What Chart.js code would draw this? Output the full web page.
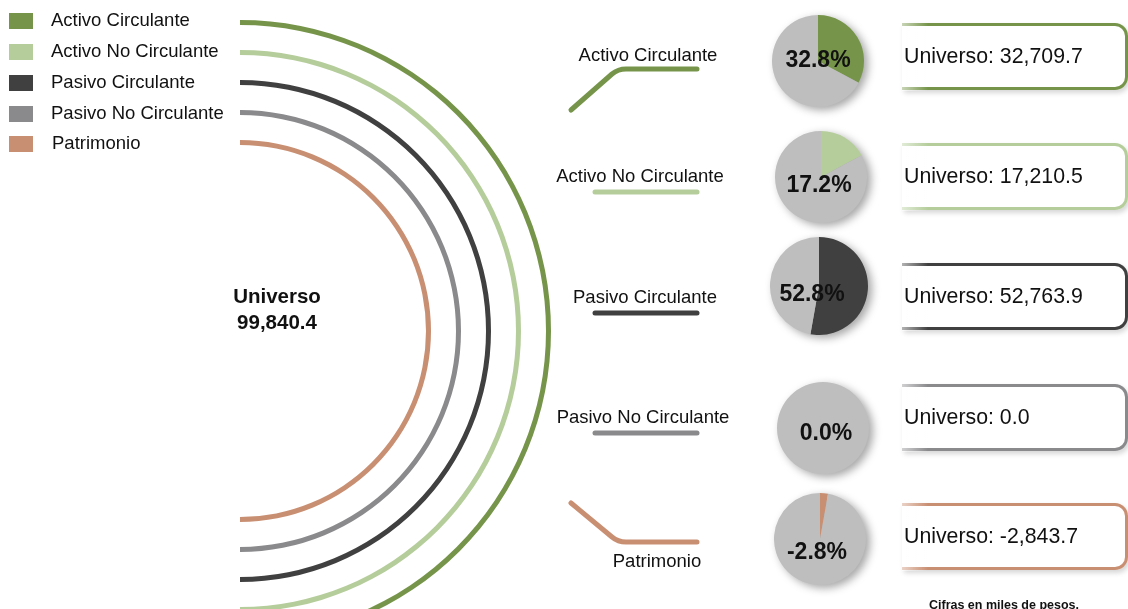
<!DOCTYPE html>
<html>
<head>
<meta charset="utf-8">
<script src="https://cdn.jsdelivr.net/npm/chart.js"></script>
<style>
  html, body { margin: 0; padding: 0; }
  body { width: 1128px; height: 609px; overflow: hidden; position: relative; background: #fff;
         font-family: "Liberation Sans", Arial, sans-serif; color: #111; }
  .abs { position: absolute; }
  .leg-sq { position: absolute; left: 9px; width: 24px; height: 16px; }
  .leg-tx { position: absolute; left: 51px; font-size: 18.5px; line-height: 18px; white-space: nowrap; }
  .lbl { position: absolute; font-size: 18.5px; line-height: 18px; white-space: nowrap; transform: translate(-50%, -50%); }
  .pct { position: absolute; font-size: 23px; font-weight: bold; line-height: 23px; white-space: nowrap; transform: translate(-50%, -50%); }
  .pie { position: absolute; filter: drop-shadow(4px 3px 4px rgba(0,0,0,0.35)); }
  .box { position: absolute; left: 902px; width: 226px; border: 3px solid #000; border-left: none;
         border-radius: 0 13px 13px 0; box-sizing: border-box;
         box-shadow: 2px 3px 5px rgba(0,0,0,0.16); display: flex; align-items: center; }
  .box::before { content: ''; position: absolute; left: 0; top: -4px; bottom: -4px; width: 26px;
                 background: linear-gradient(to right, rgba(255,255,255,0.6), rgba(255,255,255,0)); }
  .box span { position: relative; font-size: 21.3px; margin-left: 2px; white-space: nowrap; }
  #center { position: absolute; left: 277px; top: 309px; transform: translate(-50%, -50%);
            text-align: center; font-weight: bold; font-size: 20.5px; line-height: 26px; }
  #note { position: absolute; left: 1004px; top: 605px; transform: translate(-50%, -50%);
          font-size: 12.5px; font-weight: bold; white-space: nowrap; }
</style>
</head>
<body>

<canvas id="arcs" class="abs" width="622" height="622" style="left:-71px; top:20px;"></canvas>
<svg class="abs" style="left:0; top:0;" width="1128" height="609" id="links"></svg>
<div id="center"></div>
<div id="note">Cifras en miles de pesos.</div>

<script>
// data
const categories = ['Activo Circulante', 'Activo No Circulante', 'Pasivo Circulante', 'Pasivo No Circulante', 'Patrimonio'];
const universo = [32709.7, 17210.5, 52763.9, 0.0, -2843.7];
const shares = [32.8, 17.2, 52.8, 0.0, -2.8];
const universoTotal = 99840.4;

// styles / layout
const colors = ['#76954A', '#B5CD9B', '#404041', '#8A8A8D', '#C98F72'];
const restColor = '#BEBEBE';
const legendY = [21, 52, 83, 114, 144];
const pieCenters = [[818, 61], [821, 177], [819, 286], [823, 428], [820, 539]];
const pieRadius = [46, 46, 49, 46, 46];
const pctPos = [[818, 59], [819, 184], [812, 293], [826, 432], [817, 551]];
const boxTop = [23, 143, 263, 384, 503];
const boxHeight = 67;
const labelPos = [[648, 55], [640, 176], [645, 297], [643, 417], [657, 561]];
const linkPaths = [
  'M571,110 L612,74 Q618,69 626,69 L697,69',
  'M595,192 L697,192',
  'M595,313 L697,313',
  'M595,433 L697,433',
  'M571,503 L612,537 Q618,542 626,542 L697,542'
];

const fmt = v => v.toLocaleString('en-US', {minimumFractionDigits: 1, maximumFractionDigits: 1});

// legend
categories.forEach((c, i) => {
  const sq = document.createElement('div');
  sq.className = 'leg-sq';
  sq.style.top = (legendY[i] - 8) + 'px';
  sq.style.background = colors[i];
  document.body.appendChild(sq);
  const tx = document.createElement('div');
  tx.className = 'leg-tx';
  tx.style.top = (legendY[i] - 10) + 'px';
  if (i === 4) tx.style.left = '52px';
  tx.textContent = c;
  document.body.appendChild(tx);
});

document.getElementById('center').innerHTML = 'Universo<br>' + fmt(universoTotal);

// half rings, one dataset per category with spacer rings in between
const ringSets = [];
categories.forEach((c, i) => {
  ringSets.push({
    label: c,
    data: [1, 1],
    backgroundColor: [colors[i], 'rgba(0,0,0,0)'],
    borderWidth: 0,
    hoverOffset: 0,
    weight: 5
  });
  if (i < categories.length - 1) {
    ringSets.push({ label: 'gap' + i, data: [1], backgroundColor: ['rgba(0,0,0,0)'], borderWidth: 0, hoverOffset: 0, weight: 25 });
  }
});

new Chart(document.getElementById('arcs'), {
  type: 'doughnut',
  data: { labels: ['a', 'b'], datasets: ringSets },
  options: {
    responsive: false,
    animation: false,
    cutout: 186,
    rotation: 0,
    layout: { padding: 0 },
    events: [],
    plugins: { legend: { display: false }, tooltip: { enabled: false } }
  }
});

// connectors
const svg = document.getElementById('links');
linkPaths.forEach((d, i) => {
  const p = document.createElementNS('http://www.w3.org/2000/svg', 'path');
  p.setAttribute('d', d);
  p.setAttribute('fill', 'none');
  p.setAttribute('stroke', colors[i]);
  p.setAttribute('stroke-width', '5');
  p.setAttribute('stroke-linecap', 'round');
  p.setAttribute('stroke-linejoin', 'round');
  svg.appendChild(p);
});

categories.forEach((c, i) => {
  const l = document.createElement('div');
  l.className = 'lbl';
  l.style.left = labelPos[i][0] + 'px';
  l.style.top = labelPos[i][1] + 'px';
  l.textContent = c;
  document.body.appendChild(l);

  // small pies
  const r = pieRadius[i];
  const cv = document.createElement('canvas');
  cv.className = 'pie';
  cv.width = 2 * r;
  cv.height = 2 * r;
  cv.style.left = (pieCenters[i][0] - r) + 'px';
  cv.style.top = (pieCenters[i][1] - r) + 'px';
  document.body.appendChild(cv);
  const s = Math.abs(shares[i]);
  new Chart(cv, {
    type: 'pie',
    data: {
      labels: [c, 'Resto'],
      datasets: [{
        data: [s, 100 - s],
        backgroundColor: [colors[i], restColor],
        borderWidth: 0,
        hoverOffset: 0
      }]
    },
    options: {
      responsive: false,
      animation: false,
      events: [],
      layout: { padding: 0 },
      plugins: { legend: { display: false }, tooltip: { enabled: false } }
    }
  });

  const pc = document.createElement('div');
  pc.className = 'pct';
  pc.style.left = pctPos[i][0] + 'px';
  pc.style.top = pctPos[i][1] + 'px';
  pc.textContent = shares[i].toFixed(1) + '%';
  document.body.appendChild(pc);

  const b = document.createElement('div');
  b.className = 'box';
  b.style.top = boxTop[i] + 'px';
  b.style.height = boxHeight + 'px';
  b.style.borderColor = colors[i];
  const sp = document.createElement('span');
  sp.textContent = 'Universo: ' + fmt(universo[i]);
  b.appendChild(sp);
  document.body.appendChild(b);
});
</script>
</body>
</html>
